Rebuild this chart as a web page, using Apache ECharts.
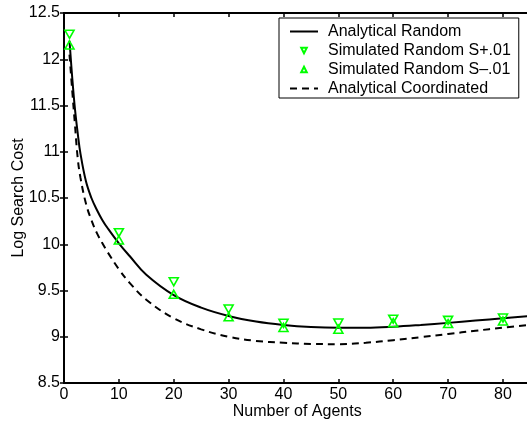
<!DOCTYPE html>
<html><head><meta charset="utf-8">
<script src="https://cdn.jsdelivr.net/npm/echarts@6/dist/echarts.min.js"></script>
<style>html,body{margin:0;padding:0;background:#fff}#c{width:527px;height:422px}</style>
</head><body><div id="c"></div>
<script>
const curveX = [1,1.5,2,2.5,3,4,5,6,7,8,10,12,15,20,25,30,35,40,45,50,55,60,65,70,75,80,85];
const analyticalRandom = [12.2,11.8,11.46,11.2,10.98,10.68,10.5,10.37,10.26,10.17,10.01,9.87,9.67,9.45,9.315,9.225,9.165,9.128,9.106,9.098,9.098,9.108,9.127,9.15,9.175,9.2,9.225];
const analyticalCoordinated = [12.05,11.66,11.29,10.93,10.72,10.44,10.26,10.12,10.01,9.91,9.73,9.58,9.4,9.2,9.08,9.0,8.955,8.935,8.922,8.92,8.935,8.963,8.995,9.03,9.065,9.098,9.13];
const simX = [1,10,20,30,40,50,60,70,80];
const simPlus = [12.27,10.125,9.595,9.30,9.145,9.148,9.19,9.177,9.203];
const simMinus = [12.154,10.046,9.459,9.215,9.10,9.082,9.152,9.142,9.17];
const seriesNames = ['Analytical Random','Simulated Random S+.01','Simulated Random S\u2013.01','Analytical Coordinated'];
const xAxisTitle = 'Number of Agents';
const yAxisTitle = 'Log Search Cost';

const FONT = "'Liberation Sans', Arial, Helvetica, sans-serif";
const pair = (xs, ys) => xs.map((x, i) => [x, ys[i]]);
const axisLine = {show:true, lineStyle:{color:'#000', width:2}};
const tick = {show:true, inside:true, length:4, lineStyle:{color:'#000', width:1.5}};
const green = '#00ff00';
const noDot = {color:'rgba(0,0,0,0)', borderWidth:0};

const chart = echarts.init(document.getElementById('c'), null, {renderer:'canvas'});
chart.setOption({
  animation:false,
  backgroundColor:'#fff',
  grid:{left:64, top:13, bottom:39, right:-3.4, containLabel:false, outerBoundsMode:'none'},
  xAxis:[
    {type:'value', min:0, max:85, interval:10, position:'bottom',
     name:xAxisTitle, nameLocation:'middle', nameGap:21, nameMoveOverlap:false,
     nameTextStyle:{fontSize:16, fontFamily:FONT, color:'#000'},
     axisLine:axisLine, axisTick:tick, splitLine:{show:false},
     axisLabel:{fontSize:16, fontFamily:FONT, color:'#000', margin:4, showMaxLabel:false}},
    {type:'value', min:0, max:85, interval:10, position:'top',
     axisLine:axisLine, axisTick:tick, splitLine:{show:false}, axisLabel:{show:false}}
  ],
  yAxis:[
    {type:'value', min:8.5, max:12.5, interval:0.5, position:'left',
     name:yAxisTitle, nameLocation:'middle', nameGap:37, nameMoveOverlap:false,
     nameTextStyle:{fontSize:16, fontFamily:FONT, color:'#000'},
     axisLine:axisLine, axisTick:tick, splitLine:{show:false},
     axisLabel:{fontSize:16, fontFamily:FONT, color:'#000', margin:4}},
    {type:'value', min:8.5, max:12.5, interval:0.5, position:'right',
     axisLine:axisLine, axisTick:tick, splitLine:{show:false}, axisLabel:{show:false}}
  ],
  legend:{
    orient:'vertical', left:279, top:18, padding:[4,8,0,10], itemGap:0,
    itemWidth:28, itemHeight:7,
    backgroundColor:'#fff', borderColor:'#000', borderWidth:1, borderRadius:0,
    textStyle:{fontSize:16, fontFamily:FONT, color:'#000', lineHeight:19, padding:[0,0,0,5]},
    data:[
      {name:seriesNames[0], itemStyle:noDot},
      {name:seriesNames[1]},
      {name:seriesNames[2]},
      {name:seriesNames[3], itemStyle:noDot}
    ]
  },
  series:[
    {name:seriesNames[0], type:'line', data:pair(curveX, analyticalRandom), smooth:0.4,
     symbol:'none', lineStyle:{color:'#000', width:2}, itemStyle:{color:'#000'}, z:2},
    {name:seriesNames[1], type:'line', data:pair(simX, simPlus),
     symbol:'triangle', symbolRotate:180, symbolSize:[9,8], showSymbol:true,
     lineStyle:{width:0, color:'rgba(0,0,0,0)'},
     itemStyle:{color:'rgba(0,0,0,0)', borderColor:green, borderWidth:1.6}, z:5},
    {name:seriesNames[2], type:'line', data:pair(simX, simMinus),
     symbol:'triangle', symbolSize:[9,8], showSymbol:true,
     lineStyle:{width:0, color:'rgba(0,0,0,0)'},
     itemStyle:{color:'rgba(0,0,0,0)', borderColor:green, borderWidth:1.6}, z:5},
    {name:seriesNames[3], type:'line', data:pair(curveX, analyticalCoordinated), smooth:0.4,
     symbol:'none', lineStyle:{color:'#000', width:2, type:[7,5]}, itemStyle:{color:'#000'}, z:2}
  ]
});
</script></body></html>
